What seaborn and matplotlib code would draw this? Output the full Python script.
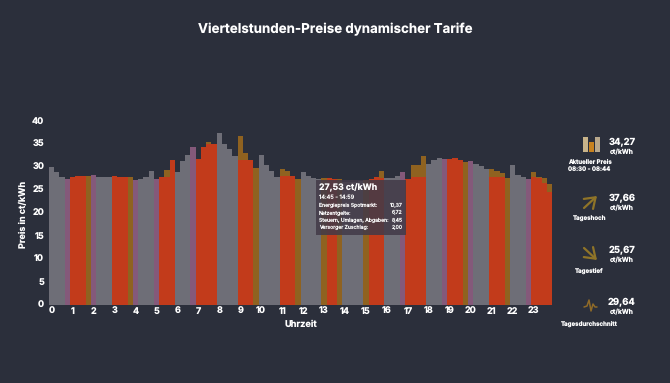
import numpy as np
import pandas as pd
import matplotlib
matplotlib.use("Agg")
import matplotlib.pyplot as plt
from matplotlib.patches import Rectangle, FancyArrowPatch
from matplotlib.lines import Line2D
import seaborn as sns

# Quarter hour prices, ct/kWh
preise = [30.0, 28.8, 27.7, 27.4, 27.9, 28.0, 28.0, 28.0, 28.2, 27.9, 27.9, 27.9,
          28.0, 27.7, 27.7, 27.7, 27.2, 27.4, 27.8, 29.0, 27.3, 27.9, 29.3, 31.4,
          28.9, 31.3, 32.6, 34.3, 31.7, 34.4, 35.5, 35.0, 37.4, 35.0, 34.0, 32.3,
          36.7, 33.0, 31.6, 29.8, 32.6, 30.5, 29.0, 27.7, 29.6, 29.0, 28.0, 27.3,
          28.9, 28.0, 27.5, 27.4, 27.5, 27.5, 27.3, 27.3, 26.8, 26.8, 26.8, 27.0,
          27.1, 27.3, 27.7, 29.0, 27.5, 27.6, 28.0, 28.8, 27.4, 30.4, 30.4, 32.4,
          30.7, 31.6, 31.9, 31.8, 31.8, 31.9, 31.6, 31.0, 31.2, 30.6, 30.2, 29.6,
          29.6, 29.2, 28.7, 27.5, 30.5, 28.2, 27.8, 27.3, 28.8, 27.8, 27.5, 26.2]
# price up to where the bar is plain orange, the rest of it is olive
basis = {22: 27.9, 30: 35.0, 36: 31.5, 37: 31.5, 44: 28.0, 45: 28.0,
         63: 27.6, 69: 27.9, 70: 27.9, 71: 27.9, 84: 27.9, 85: 27.9, 86: 27.9,
         92: 27.8, 93: 27.5, 94: 26.5, 95: 24.6}
olive_bars = [7, 15, 39, 47, 52, 55, 60, 79, 87]
mauve_bars = [3, 8, 16, 20, 27, 67, 75, 80, 91]
stunden = list(range(24))
y_ticks = [0, 5, 10, 15, 20, 25, 30, 35, 40]

titel = "Viertelstunden-Preise dynamischer Tarife"
tooltip_posten = ["Energiepreis Spotmarkt:", "Netzentgelte:", "Steuern, Umlagen, Abgaben:", "Versorger Zuschlag:"]
tooltip_werte = ["10,37", "6,72", "8,45", "2,00"]
kacheln_werte = ["34,27", "37,66", "25,67", "29,64"]
kacheln_namen = ["Aktueller Preis\n08:30 - 08:44", "Tageshoch", "Tagestief", "Tagesdurchschnitt"]

BG = "#2b2f3b"
GREY = "#6e6e77"
ORANGE = "#c23b1b"
OLIVE = "#8f6220"
MAUVE = "#84597a"
W, H = 670, 383


def farbe(i):
    if i in mauve_bars:
        return "mauve"
    if i in basis or i in olive_bars:
        return "olive"
    return "grey" if (i // 4) % 2 == 0 else "orange"


df = pd.DataFrame({"idx": range(96), "preis": preise})
df["farbe"] = [farbe(i) for i in df.idx]
df_basis = pd.DataFrame({"idx": list(basis.keys()), "preis": list(basis.values())})

sns.set_theme(style="dark")
plt.rcParams["font.family"] = ["Inter", "DejaVu Sans"]
plt.rcParams["font.weight"] = "bold"
plt.rcParams["text.hinting"] = "none"

fig = plt.figure(figsize=(6.70, 3.83), dpi=100, facecolor=BG)
ax = fig.add_axes([49 / W, 1 - 304.5 / H, 503 / W, 183.5 / H], facecolor=BG)

sns.barplot(data=df, x="idx", y="preis", hue="farbe", order=range(96), width=1, dodge=False,
            palette={"grey": GREY, "orange": ORANGE, "olive": OLIVE, "mauve": MAUVE},
            saturation=1, legend=False, linewidth=0, ax=ax)
sns.barplot(data=df_basis, x="idx", y="preis", order=range(96), width=1, color=ORANGE,
            saturation=1, linewidth=0, ax=ax)
for c in ax.containers:
    if c.get_label() == "grey":
        for b in c:
            b.set_edgecolor(BG)
            b.set_linewidth(0.2)

ax.set_xlim(-0.5, 95.5)
ax.set_ylim(0, 40)
ax.set_xticks([h * 4 for h in stunden])
ax.set_xticklabels(stunden)
ax.set_yticks(y_ticks)
ax.tick_params(colors="white", labelsize=6.5, length=0, pad=2)
ax.tick_params(axis="y", pad=3.5)
ax.grid(False)
ax.set_xlabel("")
ax.set_ylabel("")
sns.despine(ax=ax, left=True, bottom=True)


def txt(x, y, s, size, ha="center", **kw):
    # positions in pixels of the picture
    fig.text(x / W, 1 - y / H, s, color="white", fontsize=size, ha=ha, va="center", **kw)


txt(335.5, 29, titel, 9.6)
txt(24, 214, "Preis in ct/kWh", 6.5, rotation=90)
txt(300.5, 324.5, "Uhrzeit", 6.6)

# tooltip
fig.add_artist(Rectangle((316 / W, 1 - 235 / H), 90 / W, 55 / H, transform=fig.transFigure,
                         facecolor="#423a48", alpha=0.86, edgecolor="none", zorder=3))
txt(319, 187.7, "27,53 ct/kWh", 6.3, ha="left", zorder=4)
txt(319, 197.3, "14:45 - 14:59", 4.1, ha="left", zorder=4, fontweight="normal")
for i in range(4):
    y = 205.7 + i * 7.2
    txt(319, y, tooltip_posten[i], 3.7, ha="left", zorder=4, fontweight="normal")
    txt(402.7, y, tooltip_werte[i], 3.7, ha="right", zorder=4, fontweight="normal")

# right column
zeilen = [143, 199, 251, 303]
namen_y = [166, 219.3, 271, 323.7]
for i in range(4):
    txt(622, zeilen[i], kacheln_werte[i], 6.8)
    txt(622, zeilen[i] + 9.7, "ct/kWh", 4.8)
    txt(589.5, namen_y[i], kacheln_namen[i], 4.4, linespacing=1.25, multialignment="center")

# icons
for x0, hoehe, col in [(583, 15, "#c9b48a"), (589, 10, "#c8821f"), (595, 15, "#b9a88c")]:
    fig.add_artist(Rectangle((x0 / W, 1 - 152 / H), 5 / W, hoehe / H, transform=fig.transFigure,
                             facecolor=col, edgecolor="none"))
for von, nach in [((584, 208), (597, 196)), ((584, 248), (597, 260))]:
    fig.add_artist(FancyArrowPatch((von[0] / W, 1 - von[1] / H), (nach[0] / W, 1 - nach[1] / H),
                                   transform=fig.transFigure, arrowstyle="->,head_length=5,head_width=3.5",
                                   color="#8f7428", linewidth=1.6, mutation_scale=1.4, shrinkA=0, shrinkB=0))
puls_x = [584, 587, 589, 591, 593, 595, 597]
puls_y = [307, 306, 300, 311, 304, 307, 307]
fig.add_artist(Line2D([x / W for x in puls_x], [1 - y / H for y in puls_y], transform=fig.transFigure,
                      color="#8f6a28", linewidth=1.1))

fig.savefig("out.png", dpi=100, facecolor=BG)
